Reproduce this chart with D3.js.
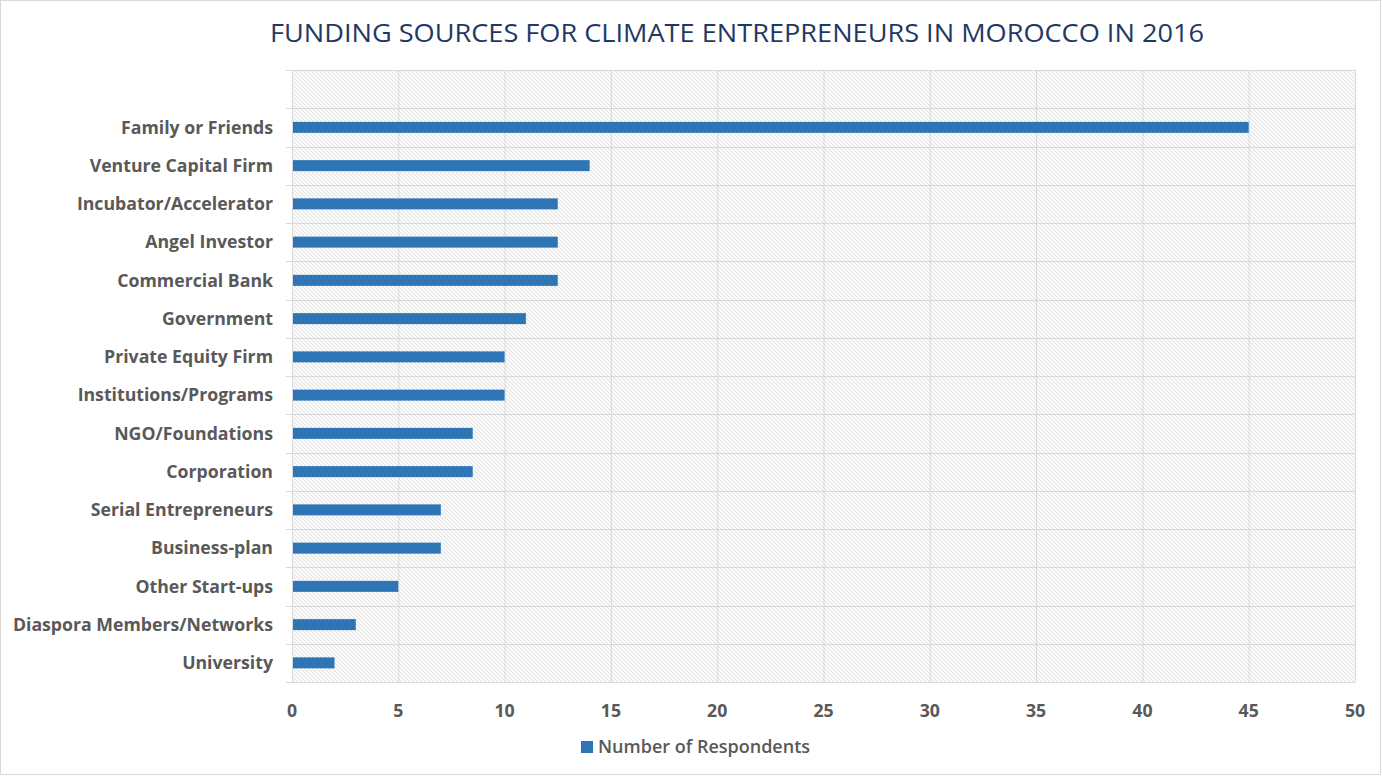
<!DOCTYPE html>
<html>
<head>
<meta charset="utf-8">
<script src="https://cdn.jsdelivr.net/npm/d3@7"></script>
<style>
  html, body { margin: 0; padding: 0; background: #fff; }
  svg { display: block; }
</style>
</head>
<body>
<svg id="chart" width="1382" height="776"></svg>
<script>
// Funding sources, top to bottom
const categories = [
  "Family or Friends",
  "Venture Capital Firm",
  "Incubator/Accelerator",
  "Angel Investor",
  "Commercial Bank",
  "Government",
  "Private Equity Firm",
  "Institutions/Programs",
  "NGO/Foundations",
  "Corporation",
  "Serial Entrepreneurs",
  "Business-plan",
  "Other Start-ups",
  "Diaspora Members/Networks",
  "University"
];
const respondents = [45, 14, 12.5, 12.5, 12.5, 11, 10, 10, 8.5, 8.5, 7, 7, 5, 3, 2];
const xTicks = [0, 5, 10, 15, 20, 25, 30, 35, 40, 45, 50];
const titleText = "FUNDING SOURCES FOR CLIMATE ENTREPRENEURS IN MOROCCO IN 2016";
const seriesName = "Number of Respondents";

const W = 1382, H = 776;
const plot = { left: 292, right: 1355, top: 70, bottom: 682 };
const svg = d3.select("#chart");

// outer frame
svg.append("rect").attr("x", 0.5).attr("y", 0.5).attr("width", W - 2).attr("height", H - 2)
  .attr("fill", "#fff").attr("stroke", "#d9d9d9");

// hatched plot background
const defs = svg.append("defs");
const pat = defs.append("pattern").attr("id", "hatch").attr("patternUnits", "userSpaceOnUse")
  .attr("width", 4).attr("height", 4);
pat.append("rect").attr("width", 4).attr("height", 4).attr("fill", "#fafafa");
pat.append("path").attr("d", "M-1,-1 L5,5 M-1,3 L1,5 M3,-1 L5,1")
  .attr("stroke", "#e0e0e0").attr("stroke-width", 1);

const x = d3.scaleLinear().domain([0, 50]).range([plot.left, plot.right]);
// one empty band sits above the first category
const bandH = (plot.bottom - plot.top) / (categories.length + 1);
const y = d3.scaleBand().domain(categories)
  .range([plot.top + bandH, plot.bottom]).paddingInner(0).paddingOuter(0);

svg.append("rect").attr("x", plot.left).attr("y", plot.top)
  .attr("width", plot.right - plot.left).attr("height", plot.bottom - plot.top)
  .attr("fill", "url(#hatch)");

// vertical gridlines
svg.append("g").selectAll("line").data(xTicks).join("line")
  .attr("x1", d => x(d) + 0.5).attr("x2", d => x(d) + 0.5)
  .attr("y1", plot.top).attr("y2", plot.bottom)
  .attr("stroke", "#d9d9d9").attr("stroke-width", 1);

// horizontal band lines with short ticks on the left
const bandEdges = [plot.top].concat(categories.map(c => y(c)), [plot.bottom]);
svg.append("g").selectAll("line").data(bandEdges).join("line")
  .attr("x1", plot.left - 6).attr("x2", plot.right)
  .attr("y1", d => Math.round(d) + 0.5).attr("y2", d => Math.round(d) + 0.5)
  .attr("stroke", "#d9d9d9").attr("stroke-width", 1);

// bars
const barH = 11;
svg.append("g").selectAll("rect").data(categories).join("rect")
  .attr("x", x(0) + 1)
  .attr("y", d => y(d) + y.bandwidth() / 2 - barH / 2)
  .attr("width", (d, i) => x(respondents[i]) - x(0) - 1)
  .attr("height", barH)
  .attr("fill", "#2e75b6");

// category labels
svg.append("g").selectAll("text").data(categories).join("text")
  .attr("x", 273).attr("y", d => y(d) + y.bandwidth() / 2)
  .attr("dy", "0.35em").attr("text-anchor", "end")
  .attr("font-family", "'Open Sans', sans-serif").attr("font-weight", 700)
  .attr("font-size", 17.7).attr("fill", "#595959")
  .text(d => d);

// x axis tick labels
svg.append("g").selectAll("text").data(xTicks).join("text")
  .attr("x", d => x(d)).attr("y", 711).attr("dy", "0.35em")
  .attr("text-anchor", "middle")
  .attr("font-family", "'Open Sans', sans-serif").attr("font-weight", 700)
  .attr("font-size", 17.7).attr("fill", "#595959")
  .text(d => d);

// title
svg.append("text").attr("x", 737).attr("y", 33).attr("dy", "0.35em")
  .attr("text-anchor", "middle")
  .attr("font-family", "'Open Sans', sans-serif").attr("font-weight", 400)
  .attr("font-size", 26).attr("fill", "#1f3864")
  .attr("textLength", 934).attr("lengthAdjust", "spacingAndGlyphs")
  .text(titleText);

// legend
svg.append("rect").attr("x", 581).attr("y", 741).attr("width", 12).attr("height", 12)
  .attr("fill", "#2e75b6");
svg.append("text").attr("x", 598).attr("y", 747).attr("dy", "0.35em")
  .attr("font-family", "'Open Sans', sans-serif").attr("font-weight", 600)
  .attr("font-size", 18).attr("fill", "#595959")
  .text(seriesName);
</script>
</body>
</html>
